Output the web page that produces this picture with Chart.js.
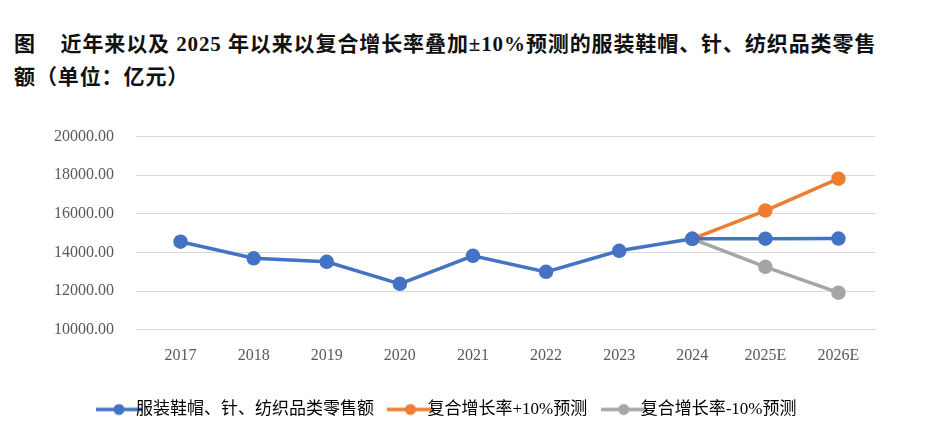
<!DOCTYPE html>
<html><head><meta charset="utf-8">
<script src="https://cdn.jsdelivr.net/npm/chart.js@4/dist/chart.umd.min.js"></script>
<style>
body{margin:0;background:#fff;width:930px;height:432px;overflow:hidden;font-family:"Liberation Serif","Noto Sans CJK SC",serif}
#t{position:absolute;left:14px;top:28px;width:920px;font-size:21px;font-weight:bold;line-height:33px;color:#111;letter-spacing:0.9px;font-family:"Liberation Serif","Noto Sans CJK SC",serif}
#w{position:absolute;left:0;top:105px;width:930px;height:327px}
</style></head><body>
<div id="t">图&nbsp;&nbsp;&nbsp;&nbsp;近年来以及 2025 年以来以复合增长率叠加±10%预测的服装鞋帽、针、纺织品类零售<br>额（单位：亿元）</div>
<div id="w"><canvas id="c"></canvas></div>
<script>
const categories=["2017","2018","2019","2020","2021","2022","2023","2024","2025E","2026E"];
const retail=[14560,13700,13520,12380,13830,13000,14090,14710,14715,14720];
const plus10=[null,null,null,null,null,null,null,14710,16170,17820];
const minus10=[null,null,null,null,null,null,null,14710,13260,11920];
const yTicks=[10000,12000,14000,16000,18000,20000];
const F='"Liberation Serif","Noto Sans CJK SC",serif';
function icon(c){const k=document.createElement('canvas');k.width=46;k.height=14;const g=k.getContext('2d');g.strokeStyle=c;g.lineWidth=3.5;g.beginPath();g.moveTo(0,7);g.lineTo(46,7);g.stroke();g.fillStyle=c;g.beginPath();g.arc(23,7,5.5,0,Math.PI*2);g.fill();return k;}
const ds=(l,d,c,o)=>({label:l,data:d,order:o,borderColor:c,backgroundColor:c,borderWidth:3.5,pointRadius:5.5,pointHoverRadius:5.5,pointBackgroundColor:c,pointBorderColor:c,pointStyle:'circle',tension:0});
const sets=[ds('服装鞋帽、针、纺织品类零售额',retail,'#4472C4',0),ds('复合增长率+10%预测',plus10,'#ED7D31',1),ds('复合增长率-10%预测',minus10,'#A5A5A5',2)];
new Chart(document.getElementById('c'),{type:'line',
data:{labels:categories,datasets:sets},
options:{responsive:true,maintainAspectRatio:false,animation:false,
layout:{padding:{left:32,right:55,top:9,bottom:4}},
scales:{y:{min:10000,max:20000,afterBuildTicks:a=>{a.ticks=yTicks.map(v=>({value:v}))},
ticks:{callback:v=>v.toFixed(2),color:'#595959',font:{family:F,size:16},padding:22},
grid:{color:'#D9D9D9'},border:{display:false}},
x:{offset:true,ticks:{color:'#595959',font:{family:F,size:16},padding:8},grid:{display:false},border:{color:'#D9D9D9'}}},
plugins:{legend:{position:'bottom',labels:{usePointStyle:true,color:'#595959',font:{family:F,size:17},padding:28,
generateLabels:ch=>ch.data.datasets.map((d,i)=>({text:d.label,fillStyle:d.borderColor,strokeStyle:d.borderColor,pointStyle:icon(d.borderColor),datasetIndex:i}))}},
tooltip:{enabled:false}}}});
</script></body></html>
